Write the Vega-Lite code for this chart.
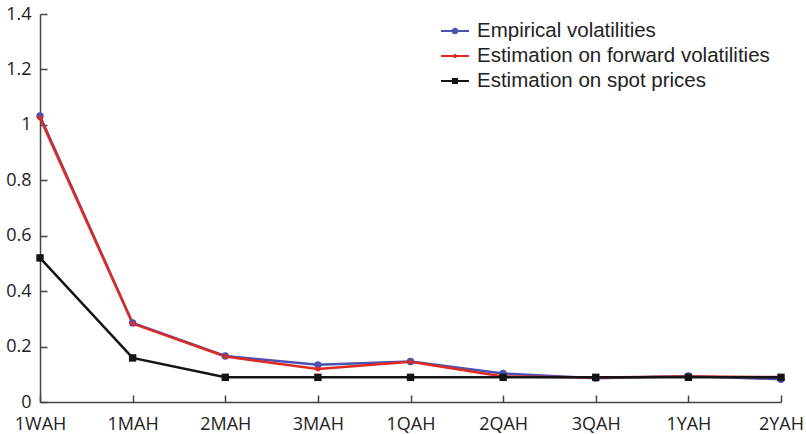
{
  "$schema": "https://vega.github.io/schema/vega-lite/v6.json",
  "width": 741,
  "height": 388,
  "autosize": "none",
  "padding": {"left": 40, "top": 14, "right": 25, "bottom": 32},
  "background": "white",
  "config": {
    "view": {"stroke": null},
    "font": "Liberation Sans",
    "axis": {"grid": false, "domainColor": "#444", "domainWidth": 1.5, "tickColor": "#444", "tickWidth": 1.5, "labelColor": "#222", "labelFont": "Open Sans", "labelFontSize": 18}
  },
  "data": {
    "values": [
      {"term": "1WAH", "series": "Empirical volatilities", "v": 1.032},
      {"term": "1MAH", "series": "Empirical volatilities", "v": 0.285},
      {"term": "2MAH", "series": "Empirical volatilities", "v": 0.166},
      {"term": "3MAH", "series": "Empirical volatilities", "v": 0.134},
      {"term": "1QAH", "series": "Empirical volatilities", "v": 0.146},
      {"term": "2QAH", "series": "Empirical volatilities", "v": 0.103},
      {"term": "3QAH", "series": "Empirical volatilities", "v": 0.086},
      {"term": "1YAH", "series": "Empirical volatilities", "v": 0.094},
      {"term": "2YAH", "series": "Empirical volatilities", "v": 0.082},
      {"term": "1WAH", "series": "Estimation on forward volatilities", "v": 1.025},
      {"term": "1MAH", "series": "Estimation on forward volatilities", "v": 0.283},
      {"term": "2MAH", "series": "Estimation on forward volatilities", "v": 0.164},
      {"term": "3MAH", "series": "Estimation on forward volatilities", "v": 0.119},
      {"term": "1QAH", "series": "Estimation on forward volatilities", "v": 0.145},
      {"term": "2QAH", "series": "Estimation on forward volatilities", "v": 0.092},
      {"term": "3QAH", "series": "Estimation on forward volatilities", "v": 0.088},
      {"term": "1YAH", "series": "Estimation on forward volatilities", "v": 0.092},
      {"term": "2YAH", "series": "Estimation on forward volatilities", "v": 0.09},
      {"term": "1WAH", "series": "Estimation on spot prices", "v": 0.52},
      {"term": "1MAH", "series": "Estimation on spot prices", "v": 0.159},
      {"term": "2MAH", "series": "Estimation on spot prices", "v": 0.089},
      {"term": "3MAH", "series": "Estimation on spot prices", "v": 0.089},
      {"term": "1QAH", "series": "Estimation on spot prices", "v": 0.089},
      {"term": "2QAH", "series": "Estimation on spot prices", "v": 0.089},
      {"term": "3QAH", "series": "Estimation on spot prices", "v": 0.089},
      {"term": "1YAH", "series": "Estimation on spot prices", "v": 0.089},
      {"term": "2YAH", "series": "Estimation on spot prices", "v": 0.089}
    ]
  },
  "encoding": {
    "x": {
      "field": "term", "type": "ordinal",
      "sort": ["1WAH", "1MAH", "2MAH", "3MAH", "1QAH", "2QAH", "3QAH", "1YAH", "2YAH"],
      "scale": {"type": "point", "padding": 0},
      "axis": {"title": null, "labelAngle": 0, "tickSize": -7, "labelPadding": 20, "labelFlush": false, "labelFontSize": 18}
    },
    "y": {
      "field": "v", "type": "quantitative",
      "scale": {"domain": [0, 1.4], "nice": false},
      "axis": {"title": null, "values": [0, 0.2, 0.4, 0.6, 0.8, 1, 1.2, 1.4], "format": "~g", "tickSize": -7, "labelPadding": 16, "labelFlush": false, "labelFontSize": 18}
    },
    "color": {
      "field": "series", "type": "nominal",
      "scale": {"domain": ["Empirical volatilities", "Estimation on forward volatilities", "Estimation on spot prices"], "range": ["#4b52b3", "#e02a20", "#141414"]}
    }
  },
  "layer": [
    {
      "mark": {"type": "line", "strokeWidth": 2.5},
      "encoding": {
        "color": {
          "field": "series", "type": "nominal",
          "legend": {
            "title": null, "orient": "none", "legendX": 401, "legendY": 3,
            "labelFont": "Liberation Sans", "labelFontSize": 20.5, "labelColor": "#222", "labelLimit": 500, "rowPadding": -1, "labelOffset": 8, "symbolSize": 784,
            "encode": {
              "symbols": {
                "update": {
                  "shape": {"signal": "datum.value === 'Estimation on spot prices' ? 'M-1,-0.075H1V0.075H-1Z M-0.22,-0.22H0.22V0.22H-0.22Z' : datum.value === 'Empirical volatilities' ? 'M-1,-0.075H1V0.075H-1Z M0.24,0A0.24,0.24 0 1,1 -0.24,0A0.24,0.24 0 1,1 0.24,0Z' : 'M-1,-0.075H1V0.075H-1Z M0.15,0A0.15,0.15 0 1,1 -0.15,0A0.15,0.15 0 1,1 0.15,0Z'"},
                  "fill": {"scale": "color", "field": "value"},
                  "fillOpacity": {"value": 1},
                  "strokeWidth": {"value": 0}
                }
              }
            }
          }
        }
      }
    },
    {
      "transform": [{"filter": "datum.series === 'Empirical volatilities'"}],
      "mark": {"type": "point", "shape": "circle", "filled": true, "size": 55, "opacity": 1}
    },
    {
      "transform": [{"filter": "datum.series === 'Estimation on forward volatilities'"}],
      "mark": {"type": "point", "shape": "circle", "filled": true, "size": 25, "opacity": 1}
    },
    {
      "transform": [{"filter": "datum.series === 'Estimation on spot prices'"}],
      "mark": {"type": "point", "shape": "square", "filled": true, "size": 55, "opacity": 1}
    }
  ]
}
